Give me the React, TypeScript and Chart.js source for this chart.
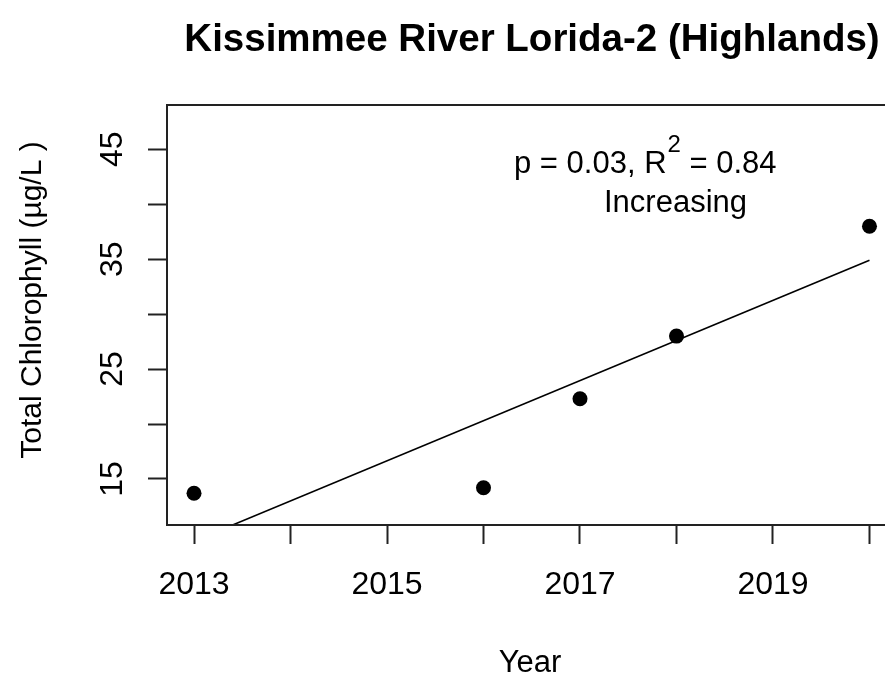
import React, { useEffect, useRef } from "react";
import { Chart, registerables } from "chart.js";

Chart.register(...registerables);

const FONT = "'Liberation Sans', Arial, Helvetica, sans-serif";

const titleText = "Kissimmee River Lorida-2 (Highlands)";
const xTitle = "Year";
const yTitle = "Total Chlorophyll (\u00b5g/L )";

const years = [2013, 2016, 2017, 2018, 2020];
const chlorophyll = [13.7, 14.2, 22.3, 28.0, 38.0];

const trendYears = [2013, 2020];
const trendValues = [9.35, 34.9];

const xTickValues = [2013, 2014, 2015, 2016, 2017, 2018, 2019, 2020];
const xTickLabels = [2013, 2015, 2017, 2019];
const yTickValues = [15, 20, 25, 30, 35, 40, 45];
const yTickLabels = [15, 25, 35, 45];

const xMin = 2012.72;
const xMax = 2020.28;
const yMin = 10.81;
const yMax = 49.03;

const annoLine1a = "p = 0.03, R";
const annoSup = "2";
const annoLine1b = " = 0.84";
const annoLine2 = "Increasing";

const CANVAS_W = 920;
const CANVAS_H = 679;

const overlayPlugin = {
  id: "overlay",
  afterDraw(chart: any) {
    const ctx = chart.ctx;
    const a = chart.chartArea;
    ctx.save();
    // box
    ctx.strokeStyle = "#222";
    ctx.lineWidth = 2;
    ctx.strokeRect(a.left, a.top, a.right - a.left, a.bottom - a.top);

    ctx.fillStyle = "#000";
    // title
    ctx.font = `bold 38.5px ${FONT}`;
    ctx.textAlign = "center";
    ctx.textBaseline = "alphabetic";
    ctx.fillText(titleText, 532, 51);

    // x title
    ctx.font = `31px ${FONT}`;
    ctx.fillText(xTitle, 530, 672);

    // y title
    ctx.save();
    ctx.translate(41, 300);
    ctx.rotate(-Math.PI / 2);
    ctx.font = `30px ${FONT}`;
    ctx.fillText(yTitle, 0, 0);
    ctx.restore();

    // y tick labels (rotated like R)
    const ys = chart.scales.y;
    ctx.font = `32px ${FONT}`;
    for (const v of yTickLabels) {
      const py = ys.getPixelForValue(v);
      ctx.save();
      ctx.translate(122, py);
      ctx.rotate(-Math.PI / 2);
      ctx.textAlign = "center";
      ctx.fillText(String(v), 0, 0);
      ctx.restore();
    }

    // annotation
    ctx.textAlign = "left";
    ctx.font = `31px ${FONT}`;
    let x = 514;
    ctx.fillText(annoLine1a, x, 173);
    x += ctx.measureText(annoLine1a).width + 1;
    ctx.font = `24px ${FONT}`;
    ctx.fillText(annoSup, x, 152);
    x += ctx.measureText(annoSup).width;
    ctx.font = `31px ${FONT}`;
    ctx.fillText(annoLine1b, x, 173);
    ctx.fillText(annoLine2, 604, 212);
    ctx.restore();
  },
};

export default function App() {
  const ref = useRef<HTMLCanvasElement | null>(null);
  useEffect(() => {
    if (!ref.current) return;
    const chart = new Chart(ref.current, {
      type: "scatter",
      data: {
        datasets: [
          {
            label: "trend",
            data: trendYears.map((x, i) => ({ x, y: trendValues[i] })),
            showLine: true,
            borderColor: "#000",
            borderWidth: 1.6,
            pointRadius: 0,
            fill: false,
          },
          {
            label: "Total Chlorophyll",
            data: years.map((x, i) => ({ x, y: chlorophyll[i] })),
            showLine: false,
            pointRadius: 7.5,
            pointBackgroundColor: "#000",
            pointBorderWidth: 0,
            backgroundColor: "#000",
            borderColor: "#000",
          },
        ],
      } as any,
      options: {
        animation: false,
        responsive: false,
        devicePixelRatio: 1,
        layout: { padding: { left: 0, top: 105, right: CANVAS_W - 896.5, bottom: 0 } },
        plugins: {
          legend: { display: false },
          tooltip: { enabled: false },
          title: { display: false },
        },
        scales: {
          x: {
            type: "linear",
            min: xMin,
            max: xMax,
            afterBuildTicks: (s: any) => {
              s.ticks = xTickValues.map((v) => ({ value: v }));
            },
            afterFit: (s: any) => {
              s.height = CANVAS_H - 525;
            },
            ticks: {
              autoSkip: false,
              maxRotation: 0,
              minRotation: 0,
              padding: 22,
              color: "#000",
              font: { size: 32, family: FONT },
              callback: (v: any) => (xTickLabels.includes(Number(v)) ? String(v) : ""),
            },
            grid: {
              drawOnChartArea: false,
              drawTicks: true,
              tickLength: 19,
              tickWidth: 2,
              tickColor: "#222",
            },
            border: { display: true, color: "#222", width: 2 },
          },
          y: {
            type: "linear",
            min: yMin,
            max: yMax,
            afterBuildTicks: (s: any) => {
              s.ticks = yTickValues.map((v) => ({ value: v }));
            },
            afterFit: (s: any) => {
              s.width = 167;
            },
            ticks: { display: false },
            grid: {
              drawOnChartArea: false,
              drawTicks: true,
              tickLength: 19,
              tickWidth: 2,
              tickColor: "#222",
            },
            border: { display: true, color: "#222", width: 2 },
          },
        },
      } as any,
      plugins: [overlayPlugin],
    });
    return () => chart.destroy();
  }, []);

  return (
    <div
      style={{
        position: "fixed",
        left: 0,
        top: 0,
        width: 885,
        height: 679,
        overflow: "hidden",
        background: "#fff",
      }}
    >
      <canvas
        ref={ref}
        width={CANVAS_W}
        height={CANVAS_H}
        style={{ display: "block", width: CANVAS_W, height: CANVAS_H }}
      />
    </div>
  );
}
